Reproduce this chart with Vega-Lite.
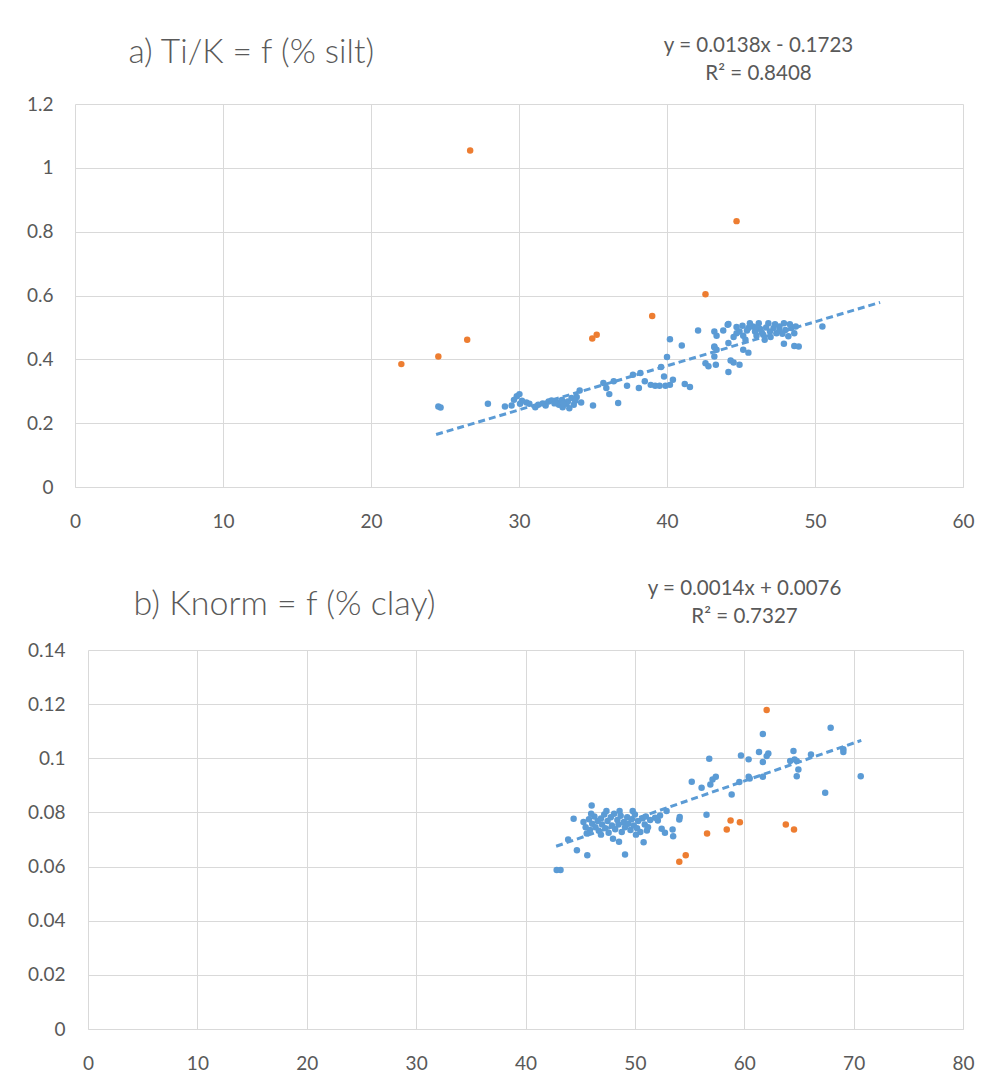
{
  "$schema": "https://vega.github.io/schema/vega-lite/v6.json",
  "padding": {"left": 26, "top": 35, "right": 5, "bottom": 5},
  "spacing": 47,
  "config": {
    "font": "Lato",
    "view": {"stroke": null},
    "axis": {
      "gridColor": "#D9D9D9", "gridWidth": 1, "domainColor": "#D9D9D9", "domainWidth": 1,
      "ticks": false, "labelColor": "#595959", "labelFontSize": 19, "labelFont": "Lato", "labelFlush": false,
      "titleColor": "#595959", "titleFont": "Lato", "titleFontWeight": "normal"
    },
    "axisY": {"domain": false}
  },
  "datasets": {
    "a_pts": [
      {"silt": 24.55, "tik": 0.252, "g": "main"}, {"silt": 24.7, "tik": 0.249, "g": "main"},
      {"silt": 27.9, "tik": 0.261, "g": "main"}, {"silt": 29.05, "tik": 0.252, "g": "main"},
      {"silt": 29.5, "tik": 0.255, "g": "main"}, {"silt": 29.66, "tik": 0.273, "g": "main"},
      {"silt": 29.85, "tik": 0.284, "g": "main"}, {"silt": 30.03, "tik": 0.291, "g": "main"},
      {"silt": 30.07, "tik": 0.261, "g": "main"}, {"silt": 30.5, "tik": 0.265, "g": "main"},
      {"silt": 30.7, "tik": 0.261, "g": "main"}, {"silt": 31.1, "tik": 0.25, "g": "main"},
      {"silt": 31.3, "tik": 0.258, "g": "main"}, {"silt": 31.8, "tik": 0.255, "g": "main"},
      {"silt": 32.0, "tik": 0.268, "g": "main"}, {"silt": 32.2, "tik": 0.271, "g": "main"},
      {"silt": 32.55, "tik": 0.265, "g": "main"}, {"silt": 32.7, "tik": 0.258, "g": "main"},
      {"silt": 32.9, "tik": 0.273, "g": "main"}, {"silt": 32.95, "tik": 0.25, "g": "main"},
      {"silt": 33.2, "tik": 0.261, "g": "main"}, {"silt": 33.3, "tik": 0.268, "g": "main"},
      {"silt": 33.4, "tik": 0.247, "g": "main"}, {"silt": 33.55, "tik": 0.279, "g": "main"},
      {"silt": 33.7, "tik": 0.258, "g": "main"}, {"silt": 33.9, "tik": 0.282, "g": "main"},
      {"silt": 34.1, "tik": 0.302, "g": "main"}, {"silt": 34.2, "tik": 0.265, "g": "main"},
      {"silt": 35.0, "tik": 0.255, "g": "main"}, {"silt": 33.0, "tik": 0.262, "g": "main"},
      {"silt": 32.4, "tik": 0.262, "g": "main"}, {"silt": 31.6, "tik": 0.262, "g": "main"},
      {"silt": 33.8, "tik": 0.27, "g": "main"}, {"silt": 30.2, "tik": 0.27, "g": "main"},
      {"silt": 35.7, "tik": 0.326, "g": "main"}, {"silt": 35.9, "tik": 0.31, "g": "main"},
      {"silt": 36.1, "tik": 0.291, "g": "main"}, {"silt": 36.4, "tik": 0.331, "g": "main"},
      {"silt": 36.7, "tik": 0.263, "g": "main"}, {"silt": 37.3, "tik": 0.317, "g": "main"},
      {"silt": 37.7, "tik": 0.352, "g": "main"}, {"silt": 38.1, "tik": 0.31, "g": "main"},
      {"silt": 38.2, "tik": 0.357, "g": "main"}, {"silt": 38.5, "tik": 0.331, "g": "main"},
      {"silt": 38.9, "tik": 0.32, "g": "main"}, {"silt": 39.2, "tik": 0.317, "g": "main"},
      {"silt": 39.5, "tik": 0.317, "g": "main"}, {"silt": 39.6, "tik": 0.376, "g": "main"},
      {"silt": 39.8, "tik": 0.346, "g": "main"}, {"silt": 39.9, "tik": 0.317, "g": "main"},
      {"silt": 40.0, "tik": 0.407, "g": "main"}, {"silt": 40.2, "tik": 0.32, "g": "main"},
      {"silt": 40.2, "tik": 0.463, "g": "main"}, {"silt": 40.4, "tik": 0.336, "g": "main"},
      {"silt": 41.0, "tik": 0.443, "g": "main"}, {"silt": 41.2, "tik": 0.323, "g": "main"},
      {"silt": 41.55, "tik": 0.313, "g": "main"}, {"silt": 42.1, "tik": 0.49, "g": "main"},
      {"silt": 42.6, "tik": 0.388, "g": "main"}, {"silt": 42.8, "tik": 0.378, "g": "main"},
      {"silt": 43.2, "tik": 0.44, "g": "main"}, {"silt": 43.3, "tik": 0.383, "g": "main"},
      {"silt": 43.2, "tik": 0.409, "g": "main"}, {"silt": 43.2, "tik": 0.487, "g": "main"},
      {"silt": 43.35, "tik": 0.474, "g": "main"}, {"silt": 43.2, "tik": 0.438, "g": "main"},
      {"silt": 43.35, "tik": 0.43, "g": "main"}, {"silt": 43.8, "tik": 0.49, "g": "main"},
      {"silt": 44.1, "tik": 0.508, "g": "main"}, {"silt": 44.15, "tik": 0.451, "g": "main"},
      {"silt": 44.15, "tik": 0.36, "g": "main"}, {"silt": 44.3, "tik": 0.396, "g": "main"},
      {"silt": 44.5, "tik": 0.39, "g": "main"}, {"silt": 44.9, "tik": 0.383, "g": "main"},
      {"silt": 44.15, "tik": 0.511, "g": "main"}, {"silt": 44.7, "tik": 0.501, "g": "main"},
      {"silt": 44.9, "tik": 0.487, "g": "main"}, {"silt": 44.7, "tik": 0.482, "g": "main"},
      {"silt": 45.15, "tik": 0.474, "g": "main"}, {"silt": 45.3, "tik": 0.461, "g": "main"},
      {"silt": 45.5, "tik": 0.498, "g": "main"}, {"silt": 45.8, "tik": 0.503, "g": "main"},
      {"silt": 45.95, "tik": 0.487, "g": "main"}, {"silt": 46.2, "tik": 0.513, "g": "main"},
      {"silt": 46.3, "tik": 0.495, "g": "main"}, {"silt": 46.5, "tik": 0.477, "g": "main"},
      {"silt": 46.6, "tik": 0.461, "g": "main"}, {"silt": 46.85, "tik": 0.513, "g": "main"},
      {"silt": 46.96, "tik": 0.487, "g": "main"}, {"silt": 47.2, "tik": 0.498, "g": "main"},
      {"silt": 47.4, "tik": 0.482, "g": "main"}, {"silt": 47.6, "tik": 0.503, "g": "main"},
      {"silt": 47.9, "tik": 0.513, "g": "main"}, {"silt": 48.0, "tik": 0.492, "g": "main"},
      {"silt": 48.2, "tik": 0.472, "g": "main"}, {"silt": 48.4, "tik": 0.498, "g": "main"},
      {"silt": 48.6, "tik": 0.482, "g": "main"}, {"silt": 48.7, "tik": 0.503, "g": "main"},
      {"silt": 45.6, "tik": 0.513, "g": "main"}, {"silt": 46.05, "tik": 0.474, "g": "main"},
      {"silt": 45.15, "tik": 0.43, "g": "main"}, {"silt": 45.5, "tik": 0.421, "g": "main"},
      {"silt": 47.9, "tik": 0.449, "g": "main"}, {"silt": 48.6, "tik": 0.442, "g": "main"},
      {"silt": 48.9, "tik": 0.44, "g": "main"}, {"silt": 50.5, "tik": 0.503, "g": "main"},
      {"silt": 45.4, "tik": 0.49, "g": "main"}, {"silt": 46.0, "tik": 0.5, "g": "main"},
      {"silt": 46.7, "tik": 0.5, "g": "main"}, {"silt": 47.0, "tik": 0.47, "g": "main"},
      {"silt": 47.8, "tik": 0.48, "g": "main"}, {"silt": 48.3, "tik": 0.51, "g": "main"},
      {"silt": 45.1, "tik": 0.505, "g": "main"}, {"silt": 47.3, "tik": 0.51, "g": "main"},
      {"silt": 44.5, "tik": 0.47, "g": "main"}, {"silt": 46.4, "tik": 0.485, "g": "main"},
      {"silt": 47.6, "tik": 0.49, "g": "main"},
      {"silt": 22.05, "tik": 0.385, "g": "outlier"}, {"silt": 24.55, "tik": 0.409, "g": "outlier"},
      {"silt": 26.5, "tik": 0.461, "g": "outlier"}, {"silt": 26.7, "tik": 1.054, "g": "outlier"},
      {"silt": 34.95, "tik": 0.465, "g": "outlier"}, {"silt": 35.25, "tik": 0.477, "g": "outlier"},
      {"silt": 39.0, "tik": 0.536, "g": "outlier"}, {"silt": 42.6, "tik": 0.604, "g": "outlier"},
      {"silt": 44.7, "tik": 0.833, "g": "outlier"}
    ],
    "a_trend": [{"silt": 24.4, "tik": 0.1644}, {"silt": 54.4, "tik": 0.5784}],
    "b_pts": [
      {"clay": 42.85, "kn": 0.0587, "g": "main"}, {"clay": 43.2, "kn": 0.0587, "g": "main"},
      {"clay": 43.9, "kn": 0.07, "g": "main"}, {"clay": 44.7, "kn": 0.066, "g": "main"},
      {"clay": 44.4, "kn": 0.0777, "g": "main"}, {"clay": 45.65, "kn": 0.0642, "g": "main"},
      {"clay": 46.05, "kn": 0.0826, "g": "main"}, {"clay": 48.0, "kn": 0.0703, "g": "main"},
      {"clay": 48.55, "kn": 0.0692, "g": "main"}, {"clay": 49.1, "kn": 0.0645, "g": "main"},
      {"clay": 50.8, "kn": 0.069, "g": "main"}, {"clay": 51.1, "kn": 0.0733, "g": "main"},
      {"clay": 52.45, "kn": 0.074, "g": "main"}, {"clay": 52.75, "kn": 0.0725, "g": "main"},
      {"clay": 52.1, "kn": 0.077, "g": "main"}, {"clay": 53.45, "kn": 0.0737, "g": "main"},
      {"clay": 53.5, "kn": 0.0712, "g": "main"}, {"clay": 54.06, "kn": 0.0774, "g": "main"},
      {"clay": 54.1, "kn": 0.0783, "g": "main"}, {"clay": 55.2, "kn": 0.0913, "g": "main"},
      {"clay": 56.1, "kn": 0.0891, "g": "main"}, {"clay": 56.55, "kn": 0.0791, "g": "main"},
      {"clay": 56.8, "kn": 0.0998, "g": "main"}, {"clay": 56.9, "kn": 0.0903, "g": "main"},
      {"clay": 57.1, "kn": 0.0922, "g": "main"}, {"clay": 57.4, "kn": 0.0932, "g": "main"},
      {"clay": 52.9, "kn": 0.0805, "g": "main"}, {"clay": 52.3, "kn": 0.0789, "g": "main"},
      {"clay": 51.85, "kn": 0.078, "g": "main"}, {"clay": 58.85, "kn": 0.0866, "g": "main"},
      {"clay": 59.55, "kn": 0.0912, "g": "main"}, {"clay": 59.7, "kn": 0.101, "g": "main"},
      {"clay": 60.4, "kn": 0.0932, "g": "main"}, {"clay": 60.5, "kn": 0.0925, "g": "main"},
      {"clay": 60.4, "kn": 0.0996, "g": "main"}, {"clay": 61.35, "kn": 0.1023, "g": "main"},
      {"clay": 61.7, "kn": 0.109, "g": "main"}, {"clay": 61.7, "kn": 0.0986, "g": "main"},
      {"clay": 61.7, "kn": 0.0932, "g": "main"}, {"clay": 62.05, "kn": 0.1008, "g": "main"},
      {"clay": 62.2, "kn": 0.1018, "g": "main"}, {"clay": 64.2, "kn": 0.099, "g": "main"},
      {"clay": 64.5, "kn": 0.1027, "g": "main"}, {"clay": 64.6, "kn": 0.0996, "g": "main"},
      {"clay": 64.8, "kn": 0.099, "g": "main"}, {"clay": 64.95, "kn": 0.0959, "g": "main"},
      {"clay": 64.8, "kn": 0.0934, "g": "main"}, {"clay": 66.1, "kn": 0.1014, "g": "main"},
      {"clay": 67.4, "kn": 0.0873, "g": "main"}, {"clay": 67.9, "kn": 0.1113, "g": "main"},
      {"clay": 69.06, "kn": 0.1033, "g": "main"}, {"clay": 69.06, "kn": 0.1023, "g": "main"},
      {"clay": 70.65, "kn": 0.0934, "g": "main"},
      {"clay": 45.3, "kn": 0.0765, "g": "main"}, {"clay": 45.5, "kn": 0.0745, "g": "main"},
      {"clay": 45.8, "kn": 0.0775, "g": "main"}, {"clay": 45.9, "kn": 0.0735, "g": "main"},
      {"clay": 46.1, "kn": 0.0758, "g": "main"}, {"clay": 46.3, "kn": 0.0785, "g": "main"},
      {"clay": 46.4, "kn": 0.0745, "g": "main"}, {"clay": 46.6, "kn": 0.0768, "g": "main"},
      {"clay": 46.7, "kn": 0.0732, "g": "main"}, {"clay": 46.9, "kn": 0.0778, "g": "main"},
      {"clay": 47.0, "kn": 0.0755, "g": "main"}, {"clay": 47.2, "kn": 0.0792, "g": "main"},
      {"clay": 47.3, "kn": 0.0742, "g": "main"}, {"clay": 47.5, "kn": 0.0768, "g": "main"},
      {"clay": 47.6, "kn": 0.0725, "g": "main"}, {"clay": 47.8, "kn": 0.0782, "g": "main"},
      {"clay": 47.9, "kn": 0.0752, "g": "main"}, {"clay": 48.1, "kn": 0.0795, "g": "main"},
      {"clay": 48.2, "kn": 0.0738, "g": "main"}, {"clay": 48.4, "kn": 0.0772, "g": "main"},
      {"clay": 48.5, "kn": 0.0755, "g": "main"}, {"clay": 48.7, "kn": 0.0788, "g": "main"},
      {"clay": 48.8, "kn": 0.0728, "g": "main"}, {"clay": 49.0, "kn": 0.0765, "g": "main"},
      {"clay": 49.1, "kn": 0.0745, "g": "main"}, {"clay": 49.3, "kn": 0.0782, "g": "main"},
      {"clay": 49.4, "kn": 0.0758, "g": "main"}, {"clay": 49.6, "kn": 0.0735, "g": "main"},
      {"clay": 49.7, "kn": 0.0775, "g": "main"}, {"clay": 49.9, "kn": 0.0752, "g": "main"},
      {"clay": 50.0, "kn": 0.0792, "g": "main"}, {"clay": 50.2, "kn": 0.0742, "g": "main"},
      {"clay": 50.3, "kn": 0.0768, "g": "main"}, {"clay": 50.5, "kn": 0.0728, "g": "main"},
      {"clay": 50.7, "kn": 0.0778, "g": "main"}, {"clay": 50.9, "kn": 0.0755, "g": "main"},
      {"clay": 51.0, "kn": 0.0785, "g": "main"}, {"clay": 51.2, "kn": 0.0745, "g": "main"},
      {"clay": 51.4, "kn": 0.0772, "g": "main"}, {"clay": 46.0, "kn": 0.0795, "g": "main"},
      {"clay": 47.4, "kn": 0.0805, "g": "main"}, {"clay": 48.6, "kn": 0.0805, "g": "main"},
      {"clay": 49.8, "kn": 0.0805, "g": "main"}, {"clay": 45.6, "kn": 0.0722, "g": "main"},
      {"clay": 50.1, "kn": 0.0718, "g": "main"}, {"clay": 46.9, "kn": 0.0718, "g": "main"},
      {"clay": 54.06, "kn": 0.0618, "g": "outlier"}, {"clay": 54.65, "kn": 0.0642, "g": "outlier"},
      {"clay": 56.6, "kn": 0.0722, "g": "outlier"}, {"clay": 58.4, "kn": 0.0737, "g": "outlier"},
      {"clay": 58.75, "kn": 0.077, "g": "outlier"}, {"clay": 59.6, "kn": 0.0764, "g": "outlier"},
      {"clay": 62.05, "kn": 0.1178, "g": "outlier"}, {"clay": 63.8, "kn": 0.0755, "g": "outlier"},
      {"clay": 64.55, "kn": 0.0737, "g": "outlier"}
    ],
    "b_trend": [{"clay": 42.8, "kn": 0.0675}, {"clay": 70.7, "kn": 0.1066}]
  },
  "vconcat": [
    {
      "width": 875,
      "height": 383,
      "layer": [
        {
          "data": {"name": "a_pts"},
          "mark": {"type": "circle", "size": 42, "opacity": 1},
          "encoding": {
            "x": {
              "field": "silt", "type": "quantitative",
              "scale": {"domain": [0, 60], "nice": false, "zero": false, "range": [-13, 875]},
              "axis": {
                "values": [0, 10, 20, 30, 40, 50, 60], "labelPadding": 25,
                "title": ["y = 0.0138x - 0.1723", "R² = 0.8408"],
                "titleX": 670, "titleY": -436, "titleAlign": "center", "titleBaseline": "alphabetic",
                "titleFontSize": 20.5, "titleLineHeight": 28
              }
            },
            "y": {
              "field": "tik", "type": "quantitative",
              "scale": {"domain": [0, 1.2], "nice": false},
              "axis": {
                "values": [0, 0.2, 0.4, 0.6, 0.8, 1, 1.2], "format": "~g", "labelPadding": 35,
                "title": "a) Ti/K = f (% silt)", "titleAngle": 0, "titleAlign": "left", "titleBaseline": "middle",
                "titleX": 40, "titleY": -52, "titleFontSize": 33.5, "titleFontWeight": 300
              }
            },
            "color": {
              "field": "g", "type": "nominal",
              "scale": {"domain": ["main", "outlier"], "range": ["#5B9BD5", "#ED7D31"]},
              "legend": null
            }
          }
        },
        {
          "data": {"name": "a_trend"},
          "mark": {"type": "line", "color": "#5B9BD5", "strokeWidth": 3, "strokeDash": [7, 4]},
          "encoding": {
            "x": {"field": "silt", "type": "quantitative"},
            "y": {"field": "tik", "type": "quantitative"}
          }
        }
      ]
    },
    {
      "width": 875,
      "height": 379,
      "layer": [
        {
          "data": {"name": "b_pts"},
          "mark": {"type": "circle", "size": 42, "opacity": 1},
          "encoding": {
            "x": {
              "field": "clay", "type": "quantitative",
              "scale": {"domain": [0, 80], "nice": false, "zero": false},
              "axis": {
                "values": [0, 10, 20, 30, 40, 50, 60, 70, 80], "labelPadding": 25,
                "title": ["y = 0.0014x + 0.0076", "R² = 0.7327"],
                "titleX": 656, "titleY": -435, "titleAlign": "center", "titleBaseline": "alphabetic",
                "titleFontSize": 20.5, "titleLineHeight": 28
              }
            },
            "y": {
              "field": "kn", "type": "quantitative",
              "scale": {"domain": [0, 0.14], "nice": false},
              "axis": {
                "values": [0, 0.02, 0.04, 0.06, 0.08, 0.1, 0.12, 0.14], "format": "~g", "labelPadding": 23,
                "title": "b) Knorm = f (% clay)", "titleAngle": 0, "titleAlign": "left", "titleBaseline": "middle",
                "titleX": 45, "titleY": -46, "titleFontSize": 34, "titleFontWeight": 300
              }
            },
            "color": {
              "field": "g", "type": "nominal",
              "scale": {"domain": ["main", "outlier"], "range": ["#5B9BD5", "#ED7D31"]},
              "legend": null
            }
          }
        },
        {
          "data": {"name": "b_trend"},
          "mark": {"type": "line", "color": "#5B9BD5", "strokeWidth": 3, "strokeDash": [7, 4]},
          "encoding": {
            "x": {"field": "clay", "type": "quantitative"},
            "y": {"field": "kn", "type": "quantitative"}
          }
        }
      ]
    }
  ]
}
